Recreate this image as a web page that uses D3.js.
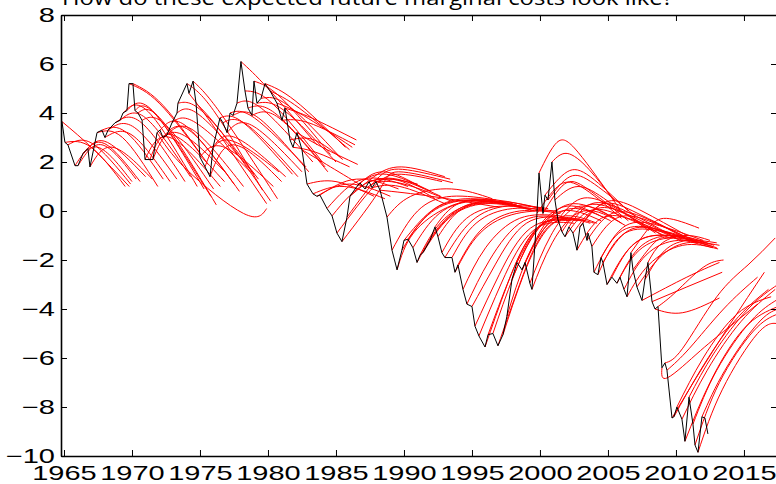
<!DOCTYPE html>
<html>
<head>
<meta charset="utf-8">
<script src="https://cdn.jsdelivr.net/npm/d3@7"></script>
<style>
body{margin:0;background:#fff;}
svg{display:block;}
</style>
</head>
<body>
<svg id="chart" width="776" height="484"></svg>
<script>
// marginal cost (black), quarterly readings
var mcYears = [1964.85,1965.07,1965.29,1965.81,1966.03,1966.40,1966.76,1966.91,1967.43,1967.79,1968.01,1968.24,1968.75,1969.12,1969.34,1969.63,1969.78,1970.07,1970.22,1970.44,1970.74,1970.96,1971.32,1971.54,1971.84,1972.06,1972.28,1972.57,1972.94,1973.31,1973.38,1974.04,1974.19,1974.49,1974.71,1975.00,1975.37,1975.74,1975.96,1976.47,1976.69,1976.99,1977.21,1977.43,1977.72,1978.01,1978.31,1978.53,1978.82,1978.97,1979.19,1979.49,1979.78,1980.15,1980.66,1981.03,1981.25,1981.62,1981.84,1982.13,1982.50,1982.87,1983.31,1983.60,1983.82,1984.34,1984.71,1985.07,1985.44,1985.81,1986.03,1986.54,1986.76,1987.13,1987.43,1987.65,1987.94,1988.24,1988.75,1989.12,1989.49,1989.85,1990.00,1990.29,1990.66,1990.96,1991.18,1991.40,1991.91,1992.28,1992.50,1992.79,1993.01,1993.53,1993.75,1993.97,1994.34,1994.63,1995.00,1995.22,1995.51,1995.96,1996.18,1996.54,1996.91,1997.28,1997.57,1997.94,1998.31,1998.68,1998.90,1999.26,1999.41,1999.78,1999.93,2000.22,2000.37,2000.59,2000.88,2001.10,2001.32,2001.62,2001.84,2002.13,2002.43,2002.72,2002.94,2003.16,2003.46,2003.53,2003.82,2003.97,2004.26,2004.49,2004.63,2004.93,2005.29,2005.66,2005.88,2006.18,2006.40,2006.69,2006.84,2007.13,2007.50,2007.72,2007.94,2008.24,2008.46,2008.68,2008.97,2009.19,2009.34,2009.71,2009.85,2010.07,2010.44,2010.66,2010.96,2011.25,2011.40,2011.62,2011.91,2012.13,2012.35];
var mcValues = [3.65,2.8,2.7,1.85,1.85,2.35,2.55,1.8,3.2,3.3,3.0,3.3,3.6,3.7,4.0,4.1,5.2,5.2,4.1,4.0,3.7,2.1,2.1,2.1,3.2,3.3,3.0,3.1,3.6,4.0,4.4,5.2,4.8,5.3,4.4,2.2,1.8,1.4,2.6,3.8,3.6,3.2,4.0,3.9,4.4,6.1,4.9,4.2,3.9,5.3,4.4,4.6,5.2,4.9,4.4,3.7,4.2,2.9,2.6,3.2,2.5,1.1,0.7,0.6,0.65,0.1,-0.2,-0.9,-1.25,-0.25,0.6,1.0,1.15,0.9,1.2,0.95,1.2,0.85,-0.25,-1.6,-2.4,-1.6,-1.2,-1.15,-1.5,-2.1,-1.8,-1.7,-1.2,-0.65,-1.05,-1.7,-1.9,-1.9,-2.5,-2.2,-3.2,-3.8,-3.9,-4.7,-5.1,-5.55,-5.05,-5.0,-5.5,-5.05,-4.3,-2.8,-2.1,-2.4,-2.1,-2.95,-3.2,-0.1,1.55,-0.1,0.65,0.45,2.0,0.45,-0.35,-0.85,-1.05,-0.65,-0.9,-1.6,-0.65,-0.5,-1.2,-0.9,-1.45,-2.5,-2.6,-1.9,-2.1,-3.0,-2.7,-2.95,-2.7,-3.2,-3.5,-1.7,-2.4,-3.1,-3.65,-2.8,-2.1,-3.7,-4.0,-3.9,-6.4,-6.2,-6.5,-8.45,-8.4,-8.0,-8.5,-9.4,-7.6,-8.7,-9.55,-9.85,-8.4,-8.45,-9.1];

// expected paths (red): year, value pairs
var paths1960s = [
  [1964.85,3.65, 1967.2,2.5, 1969.8,1.0],
  [1965.07,2.8, 1967.0,2.6, 1969.5,1.0],
  [1965.29,2.7, 1967.1,2.75, 1969.9,1.1],
  [1965.81,1.85, 1967.5,2.6, 1970.0,1.2],
  [1966.03,1.85, 1967.8,2.7, 1970.3,1.3],
  [1966.40,2.35, 1968.0,2.75, 1970.6,1.2],
  [1966.76,2.55, 1968.2,2.8, 1971.0,1.4],
  [1966.91,1.8, 1968.6,2.6, 1971.5,1.3],
  [1967.43,3.2, 1969.3,3.0, 1971.9,1.0],
  [1967.79,3.3, 1969.6,3.2, 1972.3,1.3],
  [1968.01,3.0, 1970.0,3.1, 1972.8,1.2],
  [1968.24,3.3, 1970.2,3.4, 1973.3,1.3],
  [1968.75,3.6, 1970.7,3.6, 1973.9,1.2],
  [1969.12,3.7, 1971.0,3.8, 1974.3,1.4],
  [1969.34,4.0, 1971.2,4.05, 1974.8,1.0],
  [1969.63,4.1, 1971.5,4.1, 1975.3,0.9],
  [1969.78,5.2, 1972.0,4.4, 1975.2,2.2]
];
var paths1970s = [
  [1970.07,5.2, 1972.3,4.3, 1975.6,1.9],
  [1970.22,4.1, 1971.8,3.9, 1975.8,0.6],
  [1970.44,4.0, 1972.2,3.7, 1976.2,0.25],
  [1970.74,3.7, 1972.5,3.5, 1976.0,0.9],
  [1970.96,2.1, 1972.8,3.0, 1976.5,1.0],
  [1971.32,2.1, 1973.0,3.1, 1976.8,1.2],
  [1971.54,2.1, 1973.3,3.2, 1977.0,1.5],
  [1971.84,3.2, 1974.0,1.7, 1978.2,-0.1, 1979.9,0.1],
  [1972.06,3.3, 1973.9,3.5, 1977.5,1.1],
  [1972.28,3.0, 1974.2,3.3, 1977.9,0.8],
  [1972.57,3.1, 1974.5,3.3, 1978.2,1.0],
  [1972.94,3.6, 1974.7,3.6, 1978.8,1.55],
  [1973.31,4.0, 1975.0,3.9, 1979.0,1.5],
  [1973.38,4.4, 1975.3,4.0, 1979.3,1.3],
  [1974.04,5.2, 1976.0,4.1, 1979.6,0.85],
  [1974.19,4.8, 1976.2,3.3, 1979.9,0.3],
  [1974.49,5.3, 1976.5,4.0, 1980.7,0.5],
  [1974.71,4.4, 1976.6,3.2, 1980.2,0.4],
  [1975.00,2.2, 1976.8,2.6, 1980.4,1.0],
  [1975.37,1.8, 1977.0,2.9, 1980.8,1.6],
  [1975.74,1.4, 1977.5,2.7, 1981.0,1.2],
  [1975.96,2.6, 1977.6,3.0, 1981.3,1.4],
  [1976.47,3.8, 1978.2,3.6, 1981.8,1.5],
  [1976.69,3.6, 1978.5,3.5, 1982.2,1.4],
  [1976.99,3.2, 1978.8,3.5, 1982.5,1.6],
  [1977.21,4.0, 1979.0,3.8, 1982.8,1.8],
  [1977.43,3.9, 1979.3,3.8, 1983.0,1.6],
  [1977.72,4.4, 1979.5,4.2, 1983.3,2.0],
  [1978.01,6.1, 1980.0,5.0, 1983.6,2.7],
  [1978.31,4.9, 1980.3,4.4, 1984.0,2.0],
  [1978.53,4.2, 1980.5,4.0, 1984.2,1.8],
  [1978.82,3.9, 1980.8,3.8, 1984.4,1.6],
  [1978.97,5.3, 1981.0,4.6, 1984.6,2.3],
  [1979.19,4.4, 1981.2,4.1, 1985.0,2.0],
  [1979.49,4.6, 1981.5,4.3, 1985.3,2.2],
  [1979.78,5.2, 1982.0,4.5, 1985.7,2.6]
];
var paths1980s = [
  [1980.15,4.9, 1982.3,4.2, 1986.0,2.5],
  [1980.66,4.4, 1982.6,3.9, 1986.2,2.6],
  [1981.03,3.7, 1983.0,3.6, 1986.4,2.7],
  [1981.25,4.2, 1983.2,3.8, 1986.5,2.9],
  [1981.62,2.9, 1983.4,2.9, 1985.5,2.1],
  [1981.84,2.6, 1983.5,2.4, 1986.0,1.8],
  [1982.13,3.2, 1984.0,2.6, 1986.6,1.9],
  [1982.50,2.5, 1984.3,1.9, 1987.0,1.0],
  [1982.87,1.1, 1985.0,1.2, 1987.8,0.6],
  [1983.31,0.7, 1985.6,1.0, 1988.6,0.5],
  [1983.60,0.6, 1986.0,1.1, 1989.0,0.6],
  [1983.82,0.65, 1986.5,1.3, 1989.6,0.9],
  [1984.34,0.1, 1987.0,1.3, 1990.3,1.0],
  [1984.71,-0.2, 1987.5,1.2, 1991.0,1.1],
  [1985.07,-0.9, 1987.8,1.0, 1989.8,1.5, 1992.8,1.2],
  [1985.44,-1.25, 1988.2,0.85, 1989.6,1.6, 1993.6,1.15],
  [1985.81,-0.25, 1988.0,1.3, 1989.9,1.7, 1993.4,1.3],
  [1986.03,0.6, 1987.8,1.4, 1989.8,1.8, 1993.0,1.4],
  [1986.54,1.0, 1988.5,1.6, 1991.5,0.9],
  [1986.76,1.15, 1988.7,1.5, 1992.0,0.8],
  [1987.13,0.9, 1989.2,1.3, 1992.3,0.5],
  [1987.43,1.2, 1989.5,1.3, 1992.7,0.6],
  [1987.65,0.95, 1989.7,1.0, 1993.0,0.3],
  [1987.94,1.2, 1990.0,1.1, 1993.5,0.4],
  [1988.24,0.85, 1992.0,0.6, 1997.0,0.15],
  [1988.75,-0.25, 1990.5,0.6, 1993.5,0.9, 1996.5,0.5],
  [1989.12,-1.6, 1991.0,0.0, 1993.5,0.6, 1996.8,0.45],
  [1989.49,-2.4, 1990.7,-0.9, 1993.2,0.15, 1995.6,0.45, 1997.5,0.3],
  [1989.85,-1.6, 1991.5,-0.3, 1994.0,0.4, 1997.5,0.3]
];
var paths1990s = [
  [1990.00,-1.2, 1992.0,0.0, 1994.5,0.5, 1998.0,0.3],
  [1990.29,-1.15, 1992.3,0.1, 1995.0,0.45, 1998.3,0.25],
  [1990.66,-1.5, 1992.6,-0.1, 1995.3,0.4, 1998.6,0.2],
  [1990.96,-2.1, 1992.8,-0.5, 1995.5,0.3, 1998.8,0.15],
  [1991.18,-1.8, 1993.0,-0.3, 1995.8,0.35, 1999.0,0.1],
  [1991.40,-1.7, 1993.3,-0.3, 1996.0,0.3, 1999.3,0.05],
  [1991.91,-1.2, 1993.8,0.0, 1996.5,0.4, 1999.6,0.0],
  [1992.28,-0.65, 1994.0,0.3, 1996.8,0.45, 2000.0,0.1],
  [1992.50,-1.05, 1994.3,0.1, 1997.0,0.4, 2000.2,0.1],
  [1992.79,-1.7, 1994.6,-0.3, 1997.3,0.2, 2000.4,0.0],
  [1993.01,-1.9, 1995.0,-0.4, 1997.6,0.2, 2000.6,0.1],
  [1993.53,-1.9, 1995.3,-0.5, 1998.0,0.1, 2001.0,0.0],
  [1993.75,-2.5, 1995.6,-0.9, 1998.3,-0.1, 2001.3,0.0],
  [1993.97,-2.2, 1995.8,-0.7, 1998.5,0.0, 2001.5,-0.1],
  [1994.34,-3.2, 1996.0,-1.5, 1998.5,-0.3, 2001.5,-0.2],
  [1994.63,-3.8, 1996.3,-2.0, 1998.8,-0.4, 2001.8,-0.3],
  [1995.00,-3.9, 1996.7,-2.2, 1999.0,-0.5, 2002.0,-0.3],
  [1995.22,-4.7, 1997.0,-2.6, 1999.3,-0.7, 2002.3,-0.4],
  [1995.51,-5.1, 1997.2,-2.9, 1999.5,-0.8, 2002.5,-0.5],
  [1995.96,-5.55, 1997.6,-3.0, 1999.8,-0.7, 2002.8,-0.4],
  [1996.18,-5.05, 1997.8,-2.7, 2000.0,-0.6, 2003.0,-0.4],
  [1996.54,-5.0, 1998.1,-2.6, 2000.3,-0.5, 2003.3,-0.4],
  [1996.91,-5.5, 1998.5,-3.0, 2000.7,-0.6, 2003.7,-0.5],
  [1997.28,-5.05, 1998.8,-2.6, 2001.0,-0.5, 2004.0,-0.5],
  [1997.57,-4.3, 1999.0,-2.0, 2001.2,-0.3, 2004.2,-0.5],
  [1997.94,-2.8, 1999.4,-1.1, 2001.6,0.0, 2004.5,-0.4],
  [1998.31,-2.1, 1999.8,-0.7, 2002.0,0.2, 2004.8,-0.3],
  [1998.68,-2.4, 2000.2,-0.8, 2002.3,0.1, 2005.2,-0.4],
  [1998.90,-2.1, 2000.4,-0.5, 2002.5,0.3, 2005.5,-0.3],
  [1999.26,-2.95, 2000.8,-1.0, 2003.0,0.2, 2006.0,-0.5],
  [1999.41,-3.2, 2000.9,-1.3, 2003.2,0.0, 2006.3,-0.6],
  [1999.78,-0.1, 2001.3,1.0, 2003.0,1.0, 2006.0,-0.3],
  [1999.93,1.55, 2001.25,2.8, 2002.8,2.4, 2005.9,0.05]
];
var paths2000s = [
  [2000.22,-0.1, 2001.8,1.1, 2003.5,0.9, 2006.5,-0.4],
  [2000.37,0.65, 2002.0,1.6, 2003.7,1.4, 2006.5,0.0],
  [2000.59,0.45, 2002.2,1.4, 2004.0,1.1, 2007.0,-0.2],
  [2000.88,2.0, 2002.0,2.35, 2003.6,1.7, 2005.5,0.4],
  [2001.10,0.45, 2002.8,1.0, 2005.0,0.4, 2008.0,-0.8],
  [2001.32,-0.35, 2003.0,0.5, 2005.3,0.2, 2008.5,-0.9],
  [2001.62,-0.85, 2003.3,0.2, 2005.8,0.0, 2009.0,-1.0],
  [2001.84,-1.05, 2003.6,0.0, 2006.0,-0.2, 2009.5,-1.1],
  [2002.13,-0.65, 2003.8,0.3, 2006.3,0.0, 2009.7,-1.0],
  [2002.43,-0.9, 2004.2,0.1, 2006.7,-0.2, 2010.0,-1.1],
  [2002.72,-1.6, 2004.5,-0.3, 2007.0,-0.4, 2010.3,-1.2],
  [2002.94,-0.65, 2004.7,0.3, 2007.2,-0.1, 2010.5,-1.0],
  [2003.16,-0.5, 2005.0,0.4, 2007.5,0.0, 2010.8,-1.0],
  [2003.46,-1.2, 2005.3,-0.1, 2007.8,-0.3, 2011.0,-1.2],
  [2003.82,-1.45, 2005.6,-0.3, 2008.0,-0.4, 2011.3,-1.2],
  [2003.97,-2.5, 2005.8,-0.9, 2008.3,-0.7, 2011.5,-1.3],
  [2004.26,-2.6, 2006.0,-1.0, 2008.6,-0.8, 2011.8,-1.3],
  [2004.49,-1.9, 2006.3,-0.6, 2008.8,-0.6, 2012.0,-1.2],
  [2004.63,-2.1, 2006.5,-0.8, 2009.0,-0.8, 2012.2,-1.3],
  [2004.93,-3.0, 2006.8,-1.4, 2009.3,-1.0, 2012.4,-1.4],
  [2005.29,-2.7, 2007.0,-1.3, 2009.5,-1.0, 2012.5,-1.35],
  [2005.66,-2.95, 2007.3,-1.6, 2009.8,-1.1, 2012.7,-1.45],
  [2005.88,-2.7, 2007.5,-1.4, 2010.0,-1.0, 2012.8,-1.4],
  [2006.18,-3.2, 2007.8,-1.8, 2010.2,-1.2, 2013.0,-1.5],
  [2006.40,-3.5, 2008.0,-2.2, 2010.5,-1.4, 2013.1,-1.55],
  [2006.69,-1.7, 2008.0,-0.7, 2009.3,-0.3, 2011.7,-0.7],
  [2006.84,-2.4, 2008.4,-1.3, 2009.8,-1.1, 2012.7,-1.5],
  [2007.13,-3.1, 2008.8,-1.9, 2010.8,-1.3, 2013.2,-1.4],
  [2007.50,-3.65, 2010.8,-2.7, 2013.2,-2.1],
  [2007.72,-2.8, 2009.2,-1.6, 2011.0,-1.2, 2013.0,-1.3],
  [2007.94,-2.1, 2009.0,-1.3, 2010.8,-1.0, 2012.5,-1.2],
  [2008.24,-3.7, 2010.8,-3.1, 2013.4,-2.5],
  [2008.46,-4.0, 2010.5,-4.15, 2013.2,-3.55],
  [2008.68,-3.9, 2010.0,-3.3, 2012.0,-2.3, 2013.5,-2.0]
];
var paths2010s = [
  [2008.97,-6.4, 2009.4,-6.8, 2011.8,-5.7, 2014.0,-4.7, 2016.0,-3.8],
  [2009.19,-6.2, 2010.5,-5.6, 2013.0,-3.5, 2015.3,-2.2, 2017.3,-1.1],
  [2009.34,-6.5, 2011.0,-5.6, 2013.5,-4.0, 2016.0,-2.7],
  [2009.71,-8.45, 2011.5,-6.8, 2014.0,-4.6, 2016.5,-2.5],
  [2009.85,-8.4, 2011.8,-6.5, 2014.3,-4.5, 2016.8,-3.2],
  [2010.07,-8.0, 2012.0,-6.0, 2014.5,-4.2, 2017.0,-3.5],
  [2010.44,-8.5, 2012.3,-6.5, 2014.8,-4.5, 2017.3,-3.2],
  [2010.66,-9.4, 2012.5,-7.0, 2015.0,-4.8, 2017.5,-3.9],
  [2010.96,-7.6, 2012.8,-5.8, 2015.3,-4.0, 2017.5,-3.0],
  [2011.25,-8.7, 2013.0,-6.5, 2015.5,-4.5, 2017.5,-3.6],
  [2011.40,-9.55, 2013.2,-7.0, 2015.7,-4.9, 2017.5,-4.2],
  [2011.62,-9.85, 2013.4,-7.3, 2016.0,-5.0, 2017.5,-4.6],
  [2011.91,-8.4, 2013.6,-6.5, 2016.0,-4.6, 2017.5,-4.0]
];

var xTicks = [1965,1970,1975,1980,1985,1990,1995,2000,2005,2010,2015];
var yTicks = [-10,-8,-6,-4,-2,0,2,4,6,8];
var titleText = "How do these expected future marginal costs look like?";

var svg = d3.select('#chart');
var x = d3.scaleLinear().domain([1964.78, 2017.43]).range([61, 777]);
var y = d3.scaleLinear().domain([-10, 8]).range([456, 15]);

function pairs(flat){
  var out = [];
  for(var i=0;i<flat.length;i+=2){ out.push([flat[i], flat[i+1]]); }
  return out;
}

var allPaths = [].concat(paths1960s, paths1970s, paths1980s, paths1990s, paths2000s, paths2010s).map(pairs);

var redLine = d3.line().x(function(d){return x(d[0]);}).y(function(d){return y(d[1]);}).curve(d3.curveNatural);
var blackLine = d3.line().x(function(d){return x(d[0]);}).y(function(d){return y(d[1]);});

var plot = svg.append('g');

plot.selectAll('path.fc').data(allPaths).enter().append('path')
  .attr('class','fc')
  .attr('d', redLine)
  .attr('fill','none')
  .attr('stroke','#ff0000')
  .attr('stroke-width',1);

var mc = mcYears.map(function(t,i){ return [t, mcValues[i]]; });
plot.append('path')
  .datum(mc)
  .attr('d', blackLine)
  .attr('fill','none')
  .attr('stroke','#000')
  .attr('stroke-width',1);

// axes, matlab style box with inward ticks
var font = '"Liberation Sans", Arial, sans-serif';

var gx = svg.append('g').attr('transform','translate(0,456)')
  .call(d3.axisBottom(x).tickValues(xTicks).tickFormat(d3.format('d')).tickSizeInner(-6).tickSizeOuter(0).tickPadding(10));
gx.selectAll('text').attr('transform','scale(1.45,1)');

var gy = svg.append('g').attr('transform','translate(61,0)')
  .call(d3.axisLeft(y).tickValues(yTicks).tickSizeInner(-6).tickSizeOuter(0));
gy.selectAll('text').attr('x', -4.2).attr('dy','0.34em').attr('transform','scale(1.45,1)');

var gt = svg.append('g').attr('transform','translate(0,15)')
  .call(d3.axisTop(x).tickValues(xTicks).tickFormat('').tickSizeInner(-6).tickSizeOuter(0));
var gr = svg.append('g').attr('transform','translate(777,0)')
  .call(d3.axisRight(y).tickValues(yTicks).tickFormat('').tickSizeInner(-6).tickSizeOuter(0));

svg.selectAll('.domain').attr('stroke','#000').attr('stroke-width',1.6);
svg.selectAll('.tick line').attr('stroke','#000').attr('stroke-width',1);
svg.selectAll('.tick text').attr('fill','#000').style('font-family', font).style('font-size','20px');

svg.append('text')
  .attr('x', 62).attr('y', 5)
  .attr('textLength', 611).attr('lengthAdjust','spacingAndGlyphs')
  .style('font-family','"Open Sans", Lato, sans-serif').style('font-size','20px')
  .attr('fill','#000')
  .text(titleText);
</script>
</body>
</html>
